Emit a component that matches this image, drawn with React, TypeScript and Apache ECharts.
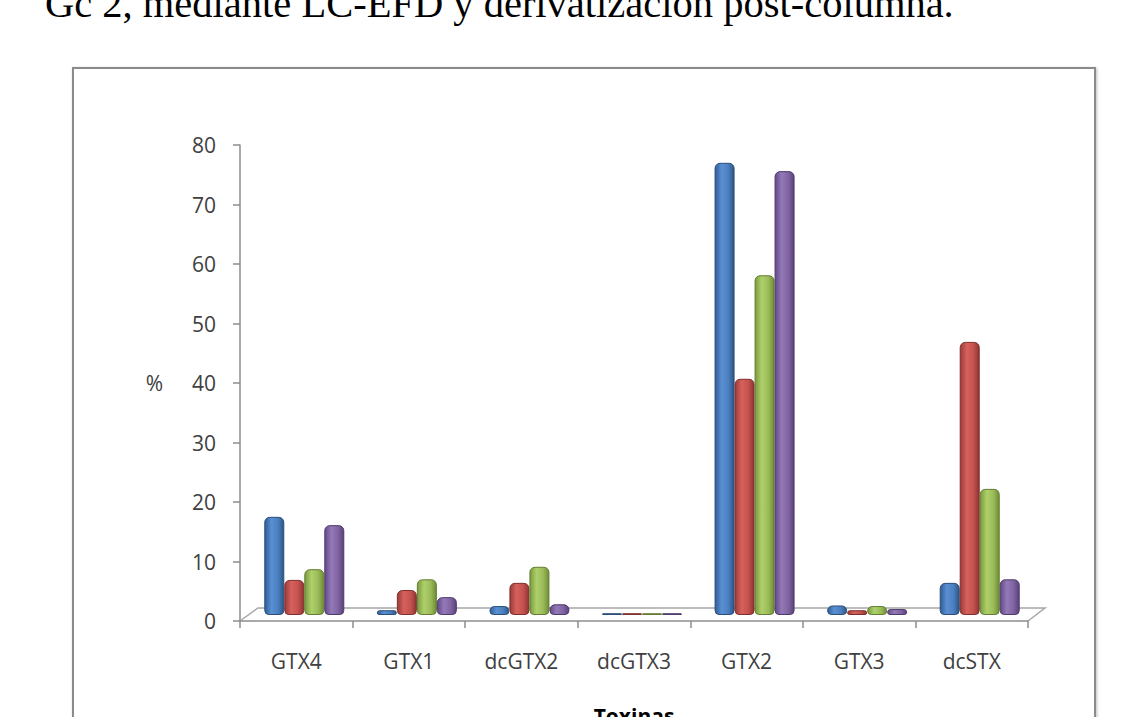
import React, { useEffect, useRef } from "react";
import * as echarts from "echarts";

const categories = ["GTX4", "GTX1", "dcGTX2", "dcGTX3", "GTX2", "GTX3", "dcSTX"];
const seriesNames = ["Serie 1", "Serie 2", "Serie 3", "Serie 4"];
const serie1 = [16.5, 0.8, 1.5, 0.3, 76.0, 1.6, 5.4];
const serie2 = [5.9, 4.2, 5.4, 0.3, 39.7, 0.8, 45.9];
const serie3 = [7.7, 6.0, 8.1, 0.3, 57.1, 1.5, 21.2];
const serie4 = [15.1, 3.0, 1.8, 0.3, 74.6, 1.0, 6.0];
const yMin = 0;
const yMax = 80;
const yInterval = 10;
const titleText = "Gc 2, mediante LC-EFD y derivatización post-columna.";
const yName = "%";
const xName = "Toxinas";

const palettes = [
  ["#2f5e98", "#5a8fd2", "#4a7fc0", "#2c5686"],
  ["#9c3b38", "#d6615d", "#c4524f", "#8f3432"],
  ["#7a9a3e", "#aed06a", "#9bbb59", "#6f8c35"],
  ["#634a85", "#9479b8", "#8064a2", "#5a4279"],
];
const borders = ["#2b4d78", "#7e2f2c", "#637d32", "#4f3a6c"];

export default function App() {
  const ref = useRef<HTMLDivElement>(null);
  useEffect(() => {
    const chart = echarts.init(ref.current!, null, { renderer: "svg" });
    const data = [serie1, serie2, serie3, serie4];
    const font = "'Open Sans', sans-serif";
    const option: any = {
      animation: false,
      backgroundColor: "#ffffff",
      graphic: [
        {
          type: "text",
          left: 45,
          top: -17,
          z: 0,
          style: {
            text: titleText,
            font: "40.5px 'Liberation Serif', serif",
            fill: "#000",
          },
        },
        {
          type: "rect",
          z: 0,
          shape: { x: 73, y: 68, width: 1022, height: 700 },
          style: { fill: "#ffffff", stroke: "#8a8a8a", lineWidth: 2, shadowBlur: 3, shadowColor: "rgba(0,0,0,0.25)", shadowOffsetX: 1, shadowOffsetY: 1 },
        },
        {
          type: "polyline",
          z: 1,
          shape: { points: [[240, 621], [258, 608], [1045, 608], [1028, 621]] },
          style: { stroke: "#a6a6a6", lineWidth: 1.5, fill: "none" },
        },
      ],
      grid: [
        { left: 240, top: 145, width: 788, height: 476, outerBoundsMode: "none", containLabel: false },
        { left: 248, top: 139, width: 788, height: 476, outerBoundsMode: "none", containLabel: false },
      ],
      xAxis: [
        {
          type: "category",
          gridIndex: 0,
          data: categories,
          name: xName,
          nameLocation: "middle",
          nameGap: 84,
          nameTextStyle: { fontFamily: font, fontSize: 21, fontWeight: "bold", color: "#000" },
          axisLine: { show: true, lineStyle: { color: "#8c8c8c", width: 1.5 } },
          axisTick: { show: true, alignWithLabel: false, length: 7, lineStyle: { color: "#8c8c8c", width: 1.5 } },
          axisLabel: { fontFamily: font, fontSize: 21, color: "#404040", margin: 29 },
          splitLine: { show: false },
          z: 3,
        },
        {
          type: "category",
          gridIndex: 1,
          data: categories,
          show: false,
        },
      ],
      yAxis: [
        {
          type: "value",
          gridIndex: 0,
          min: yMin,
          max: yMax,
          interval: yInterval,
          name: yName,
          nameLocation: "middle",
          nameRotate: 0,
          nameGap: 77,
          nameTextStyle: { fontFamily: font, fontSize: 21, color: "#404040" },
          axisLine: { show: true, lineStyle: { color: "#8c8c8c", width: 1.5 } },
          axisTick: { show: true, length: 7, lineStyle: { color: "#8c8c8c", width: 1.5 } },
          axisLabel: { fontFamily: font, fontSize: 21, color: "#404040", margin: 24 },
          splitLine: { show: false },
        },
        {
          type: "value",
          gridIndex: 1,
          min: yMin,
          max: yMax,
          interval: yInterval,
          show: false,
          splitLine: { show: false },
        },
      ],
      series: data.map((d, i) => ({
        type: "bar",
        name: seriesNames[i],
        xAxisIndex: 1,
        yAxisIndex: 1,
        data: d,
        barWidth: 20,
        barGap: "0%",
        z: 4,
        itemStyle: {
          color: new echarts.graphic.LinearGradient(0, 0, 1, 0, [
            { offset: 0, color: palettes[i][0] },
            { offset: 0.35, color: palettes[i][1] },
            { offset: 0.7, color: palettes[i][2] },
            { offset: 1, color: palettes[i][3] },
          ]),
          borderColor: borders[i],
          borderWidth: 1,
          borderRadius: [5, 5, 4, 4],
        },
      })),
    };
    chart.setOption(option);
    return () => chart.dispose();
  }, []);
  return (
    <div
      ref={ref}
      style={{ position: "fixed", left: 0, top: 0, width: 1143, height: 717, background: "#fff" }}
    />
  );
}
